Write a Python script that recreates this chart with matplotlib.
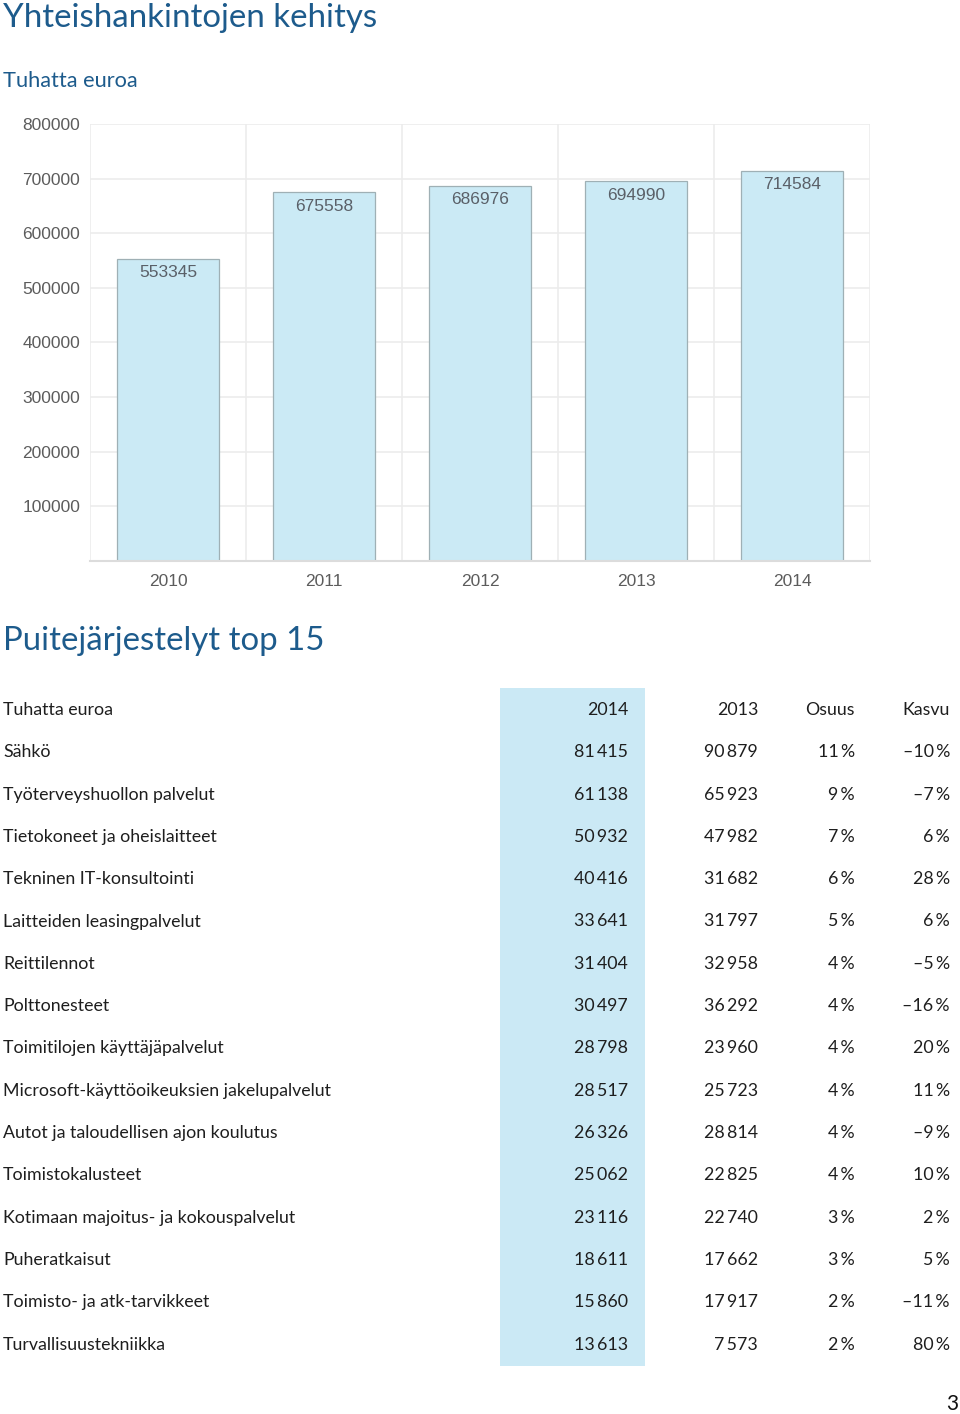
import numpy as np
import matplotlib.pyplot as plt

# Yhteishankintojen kehitys (tuhatta euroa)
years = ["2010", "2011", "2012", "2013", "2014"]
totals = [553345, 675558, 686976, 694990, 714584]

# Puitejärjestelyt top 15
categories = [
    "Sähkö",
    "Työterveyshuollon palvelut",
    "Tietokoneet ja oheislaitteet",
    "Tekninen IT-konsultointi",
    "Laitteiden leasingpalvelut",
    "Reittilennot",
    "Polttonesteet",
    "Toimitilojen käyttäjäpalvelut",
    "Microsoft-käyttöoikeuksien jakelupalvelut",
    "Autot ja taloudellisen ajon koulutus",
    "Toimistokalusteet",
    "Kotimaan majoitus- ja kokouspalvelut",
    "Puheratkaisut",
    "Toimisto- ja atk-tarvikkeet",
    "Turvallisuustekniikka",
]
v2014 = [81415, 61138, 50932, 40416, 33641, 31404, 30497, 28798, 28517, 26326, 25062, 23116, 18611, 15860, 13613]
v2013 = [90879, 65923, 47982, 31682, 31797, 32958, 36292, 23960, 25723, 28814, 22825, 22740, 17662, 17917, 7573]
osuus = [11, 9, 7, 6, 5, 4, 4, 4, 4, 4, 4, 3, 3, 2, 2]
kasvu = [-10, -7, 6, 28, 6, -5, -16, 20, 11, -9, 10, 2, 5, -11, 80]
headers = ["Tuhatta euroa", "2014", "2013", "Osuus", "Kasvu"]

W, H = 960, 1414
blue = "#1d5b8c"
fam = ["Lato", "DejaVu Sans"]
TS = "\u2009"


def fmt_num(v):
    return f"{v:,}".replace(",", TS)


def fmt_pct(v):
    s = f"{abs(v)}{TS}%"
    return ("\u2013" + s) if v < 0 else s


fig = plt.figure(figsize=(W / 100, H / 100), dpi=100)

# page layer in pixel coordinates
page = fig.add_axes([0, 0, 1, 1])
page.set_xlim(0, W)
page.set_ylim(H, 0)
page.axis("off")

page.text(3, 18, "Yhteishankintojen kehitys", color=blue, fontsize=23.8,
          family=fam, va="center", ha="left")
page.text(3, 81, "Tuhatta euroa", color=blue, fontsize=15.7,
          family=fam, va="center", ha="left")
page.text(3, 641, "Puitejärjestelyt top 15", color=blue, fontsize=23.8,
          family=fam, va="center", ha="left")

# bar chart
ax = fig.add_axes([90 / W, 1 - 561 / H, (870 - 90) / W, (561 - 124) / H])
x = np.arange(len(years))
ax.bar(x, totals, width=0.65, color="#cbeaf5", edgecolor="#9fb0b5", linewidth=0.9, zorder=2)
for xi, v in zip(x, totals):
    ax.text(xi, v - 12000, str(v), ha="center", va="top", fontsize=12.5,
            color="#5a6068", family="Liberation Sans", zorder=3)
ax.set_xlim(-0.5, len(years) - 0.5)
ax.set_ylim(0, 800000)
ax.set_yticks(np.arange(100000, 800001, 100000))
ax.set_yticklabels([str(t) for t in range(100000, 800001, 100000)])
ax.set_xticks(x)
ax.set_xticklabels(years)
ax.set_xticks(np.arange(-0.5, len(years), 1), minor=True)
ax.grid(True, which="major", axis="y", color="#ececec", linewidth=1.2, zorder=0)
ax.grid(True, which="minor", axis="x", color="#ececec", linewidth=1.2, zorder=0)
ax.tick_params(axis="both", which="both", length=0, labelsize=12.5, labelcolor="#5c5c5c")
ax.tick_params(axis="y", pad=7)
ax.tick_params(axis="x", pad=9)
for lab in ax.get_xticklabels() + ax.get_yticklabels():
    lab.set_family("Liberation Sans")
for s in ["top", "right", "left"]:
    ax.spines[s].set_visible(False)
ax.spines["bottom"].set_color("#dcdcdc")
ax.spines["bottom"].set_linewidth(1.5)

# table
row0, dy = 710, 42.3
page.add_patch(plt.Rectangle((500, 688), 145, 678, color="#cbe9f5", lw=0, zorder=0))
col_x = [3, 628, 758, 855, 950]
tcol = "#1e1e1e"
fs = 12.8
for j, h in enumerate(headers):
    page.text(col_x[j], row0, h, ha="left" if j == 0 else "right", va="center",
              fontsize=fs, color=tcol, family=fam)
for i in range(len(categories)):
    y = row0 + (i + 1) * dy
    cells = [categories[i], fmt_num(v2014[i]), fmt_num(v2013[i]),
             fmt_pct(osuus[i]), fmt_pct(kasvu[i])]
    for j, c in enumerate(cells):
        page.text(col_x[j], y, c, ha="left" if j == 0 else "right", va="center",
                  fontsize=fs, color=tcol, family=fam)

page.text(958, 1404, "3", ha="right", va="center", fontsize=15, color="#111111", family=fam)

fig.savefig("out.png", dpi=100)
